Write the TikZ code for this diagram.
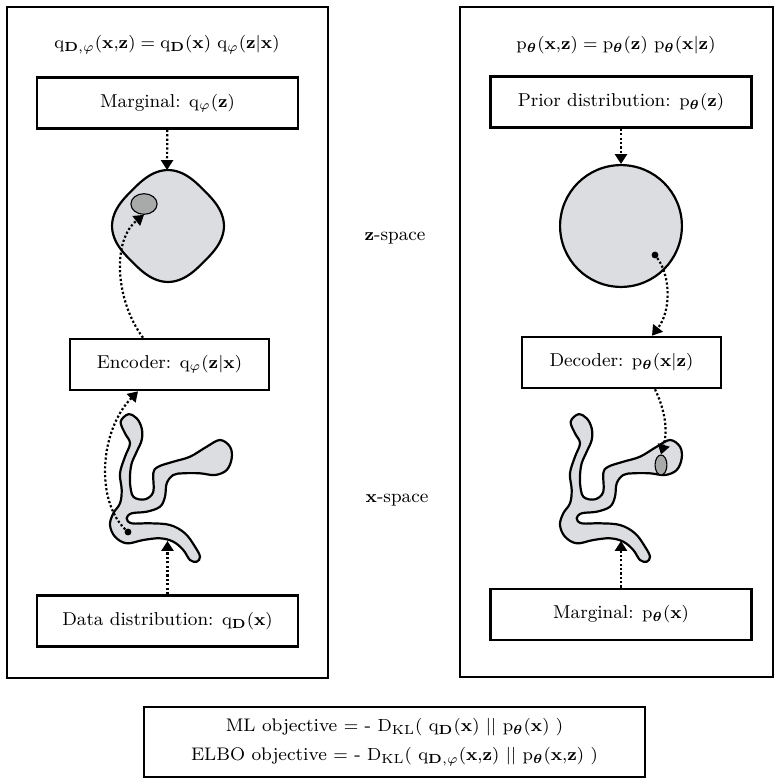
\documentclass[tikz,border=0pt]{standalone}
\usepackage{amsmath}
\usepackage{bm}
\usetikzlibrary{arrows.meta,shapes.geometric}

\definecolor{blobgray}{RGB}{220,221,224}
\definecolor{postgray}{RGB}{168,170,170}

\newcommand{\vx}{\mathbf{x}}
\newcommand{\vz}{\mathbf{z}}
\newcommand{\vD}{\mathbf{D}}
\newcommand{\thb}{\boldsymbol{\theta}}

\begin{document}
\begin{tikzpicture}[x=0.016cm, y=-0.016cm, font=\fontsize{8.5}{10}\selectfont,
    box/.style={draw, line width=1.1pt, minimum height=0.82cm},
    widebox/.style={box, minimum width=4.18cm},
    midbox/.style={box, minimum width=3.18cm},
    joint/.style={font=\fontsize{8}{10}\selectfont},
    flow/.style={line width=1pt, densely dotted, -{Triangle[length=4.5pt,width=5.5pt]}},
    region/.style={draw, line width=1pt, fill=blobgray},
    post/.style={ellipse, draw, line width=0.5pt, fill=postgray, inner sep=0pt},
    sample/.style={circle, fill=black, inner sep=0pt, minimum size=0.11cm}]
    \useasboundingbox (0,0) rectangle (782,783);

    % inference model (left) and generative model (right)
    \draw [line width=1.1pt] (7,7) rectangle (328,678);
    \draw [line width=1.1pt] (460,7) rectangle (773,677);

    \node [joint] (jointq) at (167,45) {$\mathrm{q}_{\vD,\varphi}(\vx{,}\vz) = \mathrm{q}_{\vD}(\vx)\ \mathrm{q}_{\varphi}(\vz|\vx)$};
    \node [joint] (jointp) at (616,45) {$\mathrm{p}_{\thb}(\vx{,}\vz) = \mathrm{p}_{\thb}(\vz)\ \mathrm{p}_{\thb}(\vx|\vz)$};

    \node [widebox] (marginalq) at (167.5,103) {Marginal: $\mathrm{q}_{\varphi}(\vz)$};
    \node [midbox] (encoder) at (169.5,364.5) {Encoder: $\mathrm{q}_{\varphi}(\vz|\vx)$};
    \node [widebox] (datadist) at (167.5,621) {Data distribution: $\mathrm{q}_{\vD}(\vx)$};

    \node [widebox] (prior) at (621,102) {Prior distribution: $\mathrm{p}_{\thb}(\vz)$};
    \node [midbox] (decoder) at (621.5,362.5) {Decoder: $\mathrm{p}_{\thb}(\vx|\vz)$};
    \node [widebox] (marginalp) at (621,614.5) {Marginal: $\mathrm{p}_{\thb}(\vx)$};

    \node (zspace) at (395,238) {$\vz$-space};
    \node (xspace) at (397,500) {$\vx$-space};
%
    % z-space
    \draw [region] plot [domain=2.5:357.5, samples=72, smooth cycle, variable=\t]
        ({168 + 50.7*cos(\t+45)/(abs(cos(\t))^2.8 + abs(sin(\t))^2.8)^(1/2.8)},
         {226 + 50.7*sin(\t+45)/(abs(cos(\t))^2.8 + abs(sin(\t))^2.8)^(1/2.8)});
    \coordinate (zagg) at (167,170);
    \node [post, minimum width=0.42cm, minimum height=0.33cm] (qpost) at (144,204) {};

    \node [circle, region, minimum size=1.95cm] (zprior) at (621,226) {};
    \node [sample] (zsample) at (655,255) {};
%
    % x-space
    \foreach \dx/\nm in {-450/xdata, 0/xmodel} {
        \begin{scope}[shift={(\dx,0)}]
            \draw [region] plot [smooth cycle, tension=0.6] coordinates {(570.7,421.7) (578.3,414.3)
                (586.7,418.3) (591.7,428.3) (591.7,440) (586.7,451.7) (581.7,463.3) (580,475)
                (580,483.3) (583.3,496.7) (595,499.3) (603.3,491.7) (603.3,473.3) (608.3,466.7)
                (623.3,461.7) (640,456.7) (656.7,446.7) (670,440) (680,446.7) (681.7,458.3)
                (676.7,470) (665,475) (650,473.3) (633.3,473.3) (623.3,475) (616.7,483.3)
                (615,496.7) (610,506.7) (596.7,511.7) (581.7,513.3) (576.7,518.3) (581.7,523.3)
                (600,523.3) (620,525) (635,533.3) (645,546.7) (650,556.7) (646.7,561.7)
                (640,560) (633.3,550) (623.3,541.7) (610,538.3) (593.3,540) (576.7,543.3)
                (565,536.7) (560,525) (563.3,513.3) (570,503.3) (571.7,490) (570,473.3)
                (575,456.7) (580,443.3) (575,433.3)};
            \coordinate (\nm) at (618,541);
        \end{scope}
    }
    \node [sample] (xsample) at (128,532) {};
    \node [post, minimum width=0.19cm, minimum height=0.32cm] (ppost) at (661,465) {};
%
    % arrows
    \draw [flow] (marginalq) -- (zagg);
    \draw [flow] (encoder.north -| 143,0) .. controls (115,300) and (112,240) .. (qpost.south);
    \draw [flow] (datadist) -- (datadist.north |- xdata);
    \draw [flow] (xsample) .. controls (95,500) and (100,430) .. (encoder.south -| 138,0);

    \draw [flow] (prior) -- (zprior);
    \draw [flow] (zsample) .. controls (670,275) and (672,310) .. (decoder.north -| 652,0);
    \draw [flow] (decoder.south -| 655,0) .. controls (665,410) and (668,430) .. (ppost.north);
    \draw [flow] (marginalp) -- (marginalp.north |- xmodel);
%
    \node [draw, line width=1.1pt, minimum width=8.02cm, minimum height=1.12cm, align=center,
        font=\fontsize{8.3}{10}\selectfont] (objective) at (394.5,742)
        {ML objective $=$ - $\mathrm{D}_{\mathrm{KL}}($ $\mathrm{q}_{\vD}(\vx)$ $||$ $\mathrm{p}_{\thb}(\vx)$ $)$\\[3pt]
         ELBO objective $=$ - $\mathrm{D}_{\mathrm{KL}}($ $\mathrm{q}_{\vD,\varphi}(\vx{,}\vz)$ $||$ $\mathrm{p}_{\thb}(\vx{,}\vz)$ $)$};
\end{tikzpicture}
\end{document}
